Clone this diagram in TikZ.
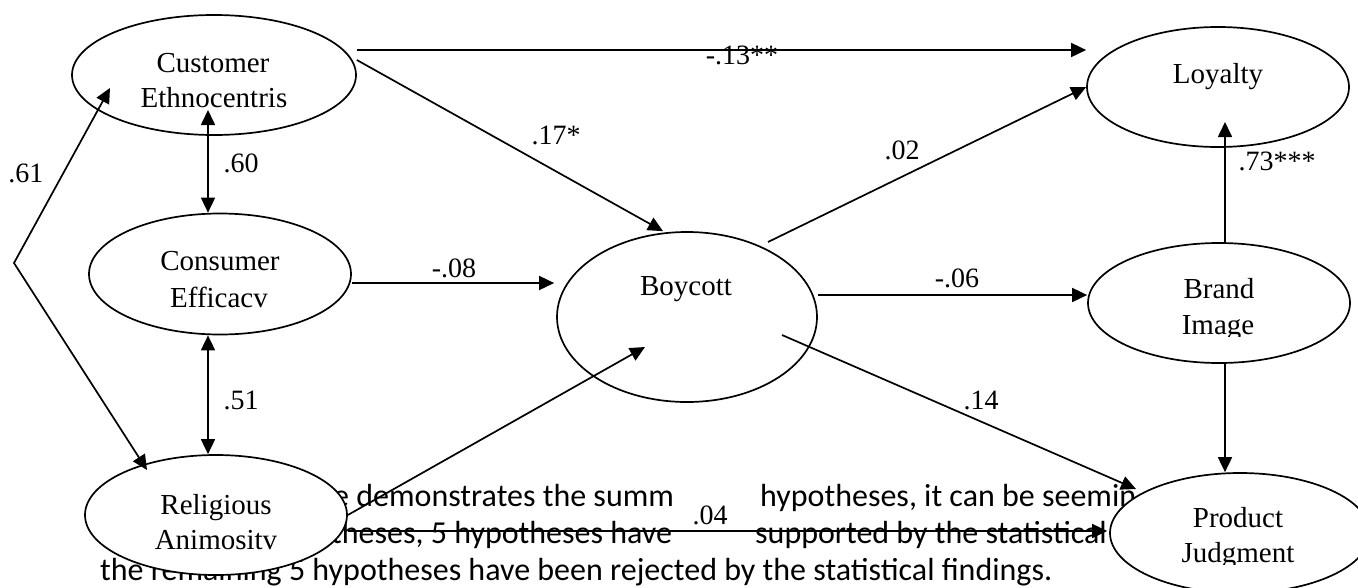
\documentclass[tikz,border=0pt]{standalone}
\usepackage{fontspec}
\setmainfont{Liberation Serif}
\newfontfamily\calib{Carlito}
\usetikzlibrary{shapes.geometric,arrows.meta,calc}
\tikzset{
  ell/.style={draw, ellipse, line width=1.7pt, fill=white, inner sep=0pt},
  lab/.style={anchor=base, inner sep=0pt, font=\fontsize{29}{36}\selectfont},
  num/.style={anchor=base, inner sep=0pt, font=\fontsize{28}{34}\selectfont},
  para/.style={anchor=base west, inner sep=0pt, font=\calib\fontsize{32}{37}\selectfont},
  arr/.style={line width=1.7pt, -{Triangle[length=15pt,width=14pt]}},
  darr/.style={line width=1.7pt, {Triangle[length=15pt,width=14pt]}-{Triangle[length=15pt,width=14pt]}}
}
\begin{document}
\begin{tikzpicture}[x=1pt,y=-1pt]
\useasboundingbox (0,0) rectangle (1358,587);
\clip (0,0) rectangle (1358,587);
% background paragraph fragments
\node[para] (p1a) at (333,506) {e demonstrates the summ};
\node[para] (p1b) at (760,506) {hypotheses, it can be seemin};
\node[para] (p2a) at (331,543) {theses, 5 hypotheses have};
\node[para] (p2b) at (755,543) {supported by the statistical};
\node[para] (p3) at (100,580) {the remaining 5 hypotheses have been rejected by the statistical findings.};
% ellipses
\node[ell, minimum width=284pt, minimum height=120pt] (cust) at (214,75) {};
\node[ell, minimum width=262pt, minimum height=121pt] (cons) at (220,274) {};
\node[ell, minimum width=262pt, minimum height=120pt] (reli) at (216,515) {};
\node[ell, minimum width=260pt, minimum height=170pt] (boy) at (687,317) {};
\node[ell, minimum width=262pt, minimum height=120pt] (loy) at (1218,87) {};
\node[ell, minimum width=262pt, minimum height=120pt] (brand) at (1219,303) {};
\node[ell, minimum width=260pt, minimum height=120pt] (prod) at (1240,533) {};
% names
\node[lab] (custa) at (213,72) {Customer};
\node[lab] (custb) at (214,107) {Ethnocentris};
\node[lab] (consa) at (220,270) {Consumer};
\node[lab] (consb) at (219,307) {Efficacv};
\node[lab] (relia) at (216,514) {Religious};
\node[lab] (relib) at (216,549) {Animositv};
\node[lab] (boya) at (686,295) {Boycott};
\node[lab] (loya) at (1218,83) {Loyalty};
\node[lab] (branda) at (1219,298) {Brand};
\begin{scope}
\clip (1150,300) rectangle (1290,336);
\node[lab] (brandb) at (1218,334) {Image};
\end{scope}
\node[lab] (proda) at (1238,527) {Product};
\begin{scope}
\clip (1150,530) rectangle (1320,564);
\node[lab] (prodb) at (1238,562) {Judgment};
\end{scope}
% connectors
\draw[arr] ($(cust.east)+(0,-25)$) -- ($(loy.west)+(0,-37)$);
\draw[arr] ($(cust.east)+(0,-15)$) -- ($(boy.north)+(-24,0)$);
\draw[arr] ($(cons.east)+(0,9)$) -- ($(boy.west)+(-2,-34)$);
\draw[arr] (reli.east) -- ($(boy.center)+(-42,30)$);
\draw[arr] ($(reli.east)+(0,16)$) -- ($(prod.west)+(-2,-2)$);
\draw[arr] ($(boy.center)+(81,-75)$) -- (loy.west);
\draw[arr] ($(boy.east)+(0,-22)$) -- ($(brand.west)+(0,-8)$);
\draw[arr] ($(boy.center)+(95,18)$) -- ($(prod.center)+(-104,-44)$);
\draw[arr] ($(brand.north)+(6,0)$) -- ($(loy.center)+(7,35)$);
\draw[arr] ($(brand.south)+(6,0)$) -- ($(prod.north)+(-15,0)$);
\draw[darr] ($(cust.center)+(-6,35)$) -- ($(cons.north)+(-12,0)$);
\draw[darr] ($(cons.south)+(-12,0)$) -- ($(reli.north)+(-8,0)$);
\coordinate (v61) at (14,263);
\draw[darr] ($(cust.center)+(-104,13)$) -- (v61) -- ($(reli.center)+(-69,-45)$);
% coefficients
\node[num] (n13) at (742,64) {-.13**};
\node[num] (n17) at (556,144) {.17*};
\node[num] (n02) at (902,159) {.02};
\node[num] (n73) at (1277,170) {.73***};
\node[num] (n60) at (241,172) {.60};
\node[num] (n61) at (26,182) {.61};
\node[num] (n08) at (454,277) {-.08};
\node[num] (n06) at (957,287) {-.06};
\node[num] (n51) at (241,409) {.51};
\node[num] (n14) at (981,409) {.14};
\node[num] (n04) at (710,524) {.04};
\end{tikzpicture}
\end{document}
